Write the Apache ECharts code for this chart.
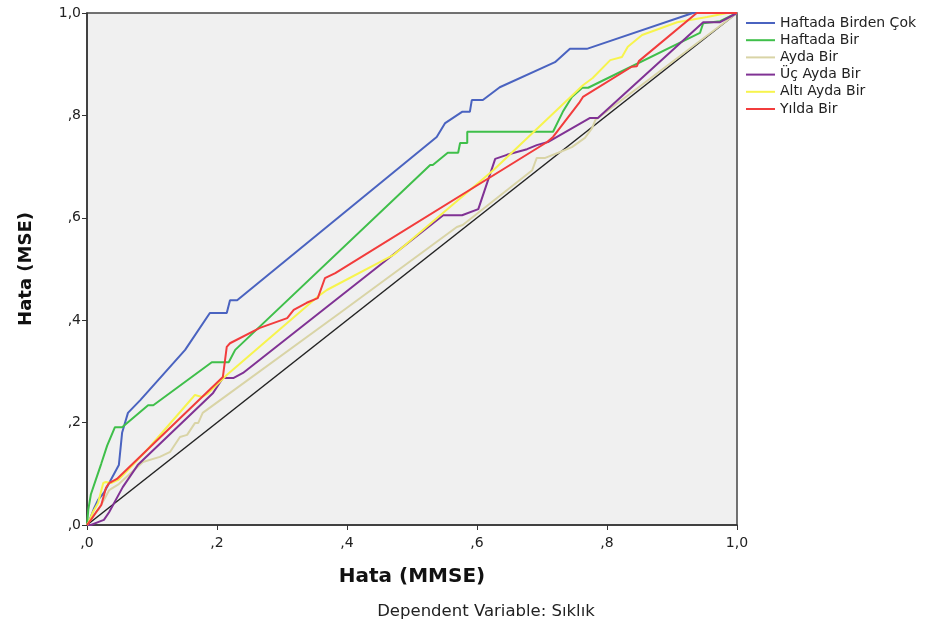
<!DOCTYPE html>
<html>
<head>
<meta charset="utf-8">
<script src="https://cdn.jsdelivr.net/npm/echarts@6/dist/echarts.min.js"></script>
<style>
  html, body { margin: 0; padding: 0; background: #fff; }
  #main { width: 932px; height: 628px; }
</style>
</head>
<body>
<div id="main"></div>
<script>
// x = Hata (MMSE), y = Hata (MSE)
const seriesNames = ['Haftada Birden Çok', 'Haftada Bir', 'Ayda Bir', 'Üç Ayda Bir', 'Altı Ayda Bir', 'Yılda Bir'];
const tickLabels = [',0', ',2', ',4', ',6', ',8', '1,0'];

const haftadaBirdenCok = [
  [0, 0], [0.003, 0.006], [0.011, 0.033], [0.017, 0.049], [0.026, 0.063], [0.049, 0.117],
  [0.054, 0.180], [0.063, 0.219], [0.082, 0.244], [0.151, 0.342], [0.189, 0.414], [0.215, 0.414],
  [0.220, 0.439], [0.231, 0.439], [0.538, 0.758], [0.551, 0.785], [0.577, 0.807], [0.589, 0.807],
  [0.592, 0.830], [0.609, 0.830], [0.635, 0.855], [0.720, 0.904], [0.743, 0.930], [0.769, 0.930],
  [0.932, 1.0], [1, 1]
];
const haftadaBir = [
  [0, 0], [0.002, 0.03], [0.006, 0.06], [0.014, 0.09], [0.022, 0.12], [0.031, 0.155],
  [0.043, 0.191], [0.054, 0.191], [0.094, 0.234], [0.102, 0.234], [0.192, 0.318], [0.218, 0.318],
  [0.228, 0.342], [0.528, 0.703], [0.532, 0.703], [0.555, 0.727], [0.571, 0.727], [0.574, 0.746],
  [0.585, 0.746], [0.585, 0.768], [0.717, 0.768], [0.732, 0.807], [0.746, 0.836], [0.762, 0.854],
  [0.771, 0.854], [0.943, 0.961], [0.948, 0.980], [0.974, 0.984], [1, 1]
];
const aydaBir = [
  [0, 0], [0.008, 0.016], [0.017, 0.029], [0.026, 0.049], [0.034, 0.068], [0.049, 0.080],
  [0.086, 0.123], [0.112, 0.133], [0.128, 0.143], [0.143, 0.172], [0.154, 0.176], [0.166, 0.199],
  [0.171, 0.199], [0.178, 0.219], [0.389, 0.414], [0.569, 0.582], [0.578, 0.586], [0.685, 0.693],
  [0.689, 0.707], [0.692, 0.717], [0.705, 0.717], [0.725, 0.727], [0.746, 0.738], [0.766, 0.756],
  [0.777, 0.775], [0.782, 0.791], [1, 1]
];
const ucAydaBir = [
  [0, 0], [0.006, 0.0], [0.018, 0.006], [0.026, 0.010], [0.034, 0.025], [0.055, 0.074],
  [0.078, 0.117], [0.194, 0.258], [0.209, 0.287], [0.225, 0.287], [0.240, 0.297], [0.548, 0.605],
  [0.577, 0.605], [0.602, 0.617], [0.628, 0.715], [0.646, 0.723], [0.677, 0.734], [0.692, 0.742],
  [0.709, 0.748], [0.774, 0.795], [0.786, 0.795], [0.948, 0.982], [0.974, 0.982], [1, 1]
];
const altiAydaBir = [
  [0, 0], [0.003, 0.006], [0.009, 0.025], [0.017, 0.043], [0.025, 0.082], [0.029, 0.084],
  [0.037, 0.082], [0.048, 0.088], [0.092, 0.146], [0.162, 0.248], [0.166, 0.254], [0.177, 0.250],
  [0.185, 0.256], [0.215, 0.293], [0.358, 0.449], [0.369, 0.459], [0.471, 0.527], [0.625, 0.693],
  [0.763, 0.859], [0.778, 0.873], [0.805, 0.908], [0.823, 0.914], [0.832, 0.934], [0.854, 0.957],
  [0.908, 0.982], [0.954, 0.992], [0.985, 1.0], [1, 1]
];
const yildaBir = [
  [0, 0], [0.006, 0.010], [0.014, 0.025], [0.022, 0.039], [0.029, 0.072], [0.034, 0.082],
  [0.046, 0.090], [0.209, 0.289], [0.215, 0.348], [0.220, 0.355], [0.266, 0.385], [0.308, 0.404],
  [0.318, 0.420], [0.338, 0.434], [0.355, 0.443], [0.366, 0.482], [0.382, 0.492], [0.708, 0.748],
  [0.717, 0.758], [0.758, 0.826], [0.763, 0.836], [0.838, 0.895], [0.846, 0.896], [0.849, 0.906],
  [0.938, 1.0], [1, 1]
];
const referenceLine = [[0, 0], [1, 1]];

const seriesData = [haftadaBirdenCok, haftadaBir, aydaBir, ucAydaBir, altiAydaBir, yildaBir];
const seriesColors = ['#4a63c0', '#3fbf4a', '#d9d4a6', '#803294', '#f7f44d', '#f23c3c'];

const font = 'DejaVu Sans, Verdana, sans-serif';

let myChart = echarts.init(document.getElementById('main'), null, { renderer: 'canvas' });

let series = [{
  name: 'ref',
  type: 'line',
  data: referenceLine,
  symbol: 'none',
  silent: true,
  lineStyle: { color: '#222', width: 1.5 },
  z: 2
}];
seriesData.forEach(function (d, i) {
  series.push({
    name: seriesNames[i],
    type: 'line',
    data: d,
    symbol: 'none',
    color: seriesColors[i],
    lineStyle: { color: seriesColors[i], width: 2 },
    z: 3 + i
  });
});

let option = {
  animation: false,
  textStyle: { fontFamily: font },
  grid: {
    left: 87, right: 195, top: 13, bottom: 103,
    show: true,
    backgroundColor: '#f0f0f0',
    borderColor: '#444',
    borderWidth: 1.5
  },
  legend: {
    data: seriesNames,
    orient: 'vertical',
    left: 741,
    top: 11,
    icon: 'rect',
    itemWidth: 29,
    itemHeight: 2,
    itemGap: 3.2,
    textStyle: { fontSize: 14, lineHeight: 14, color: '#222', fontFamily: font }
  },
  xAxis: {
    type: 'value',
    min: 0, max: 1, interval: 0.2,
    name: 'Hata (MMSE)',
    nameLocation: 'middle',
    nameGap: 42,
    nameTextStyle: { fontSize: 20, fontWeight: 'bold', color: '#111', fontFamily: font },
    axisLine: { show: true, lineStyle: { color: '#333', width: 1.5 } },
    axisTick: { show: true, length: 5, lineStyle: { color: '#333' } },
    axisLabel: {
      fontSize: 14, color: '#222', margin: 11, fontFamily: font,
      formatter: function (v) { return tickLabels[Math.round(v * 5)]; }
    },
    splitLine: { show: false }
  },
  yAxis: {
    type: 'value',
    min: 0, max: 1, interval: 0.2,
    name: 'Hata (MSE)',
    nameLocation: 'middle',
    nameGap: 52,
    nameTextStyle: { fontSize: 18, fontWeight: 'bold', color: '#111', fontFamily: font },
    axisLine: { show: true, lineStyle: { color: '#333', width: 1.5 } },
    axisTick: { show: true, length: 5, lineStyle: { color: '#333' } },
    axisLabel: {
      fontSize: 14, color: '#222', margin: 6, fontFamily: font,
      formatter: function (v) { return tickLabels[Math.round(v * 5)]; }
    },
    splitLine: { show: false }
  },
  graphic: [{
    type: 'text',
    x: 486,
    y: 612,
    style: {
      text: 'Dependent Variable: Sıklık',
      fontSize: 16.5,
      fontFamily: font,
      fill: '#222',
      align: 'center',
      verticalAlign: 'middle'
    }
  }],
  series: series
};

myChart.setOption(option);
</script>
</body>
</html>
